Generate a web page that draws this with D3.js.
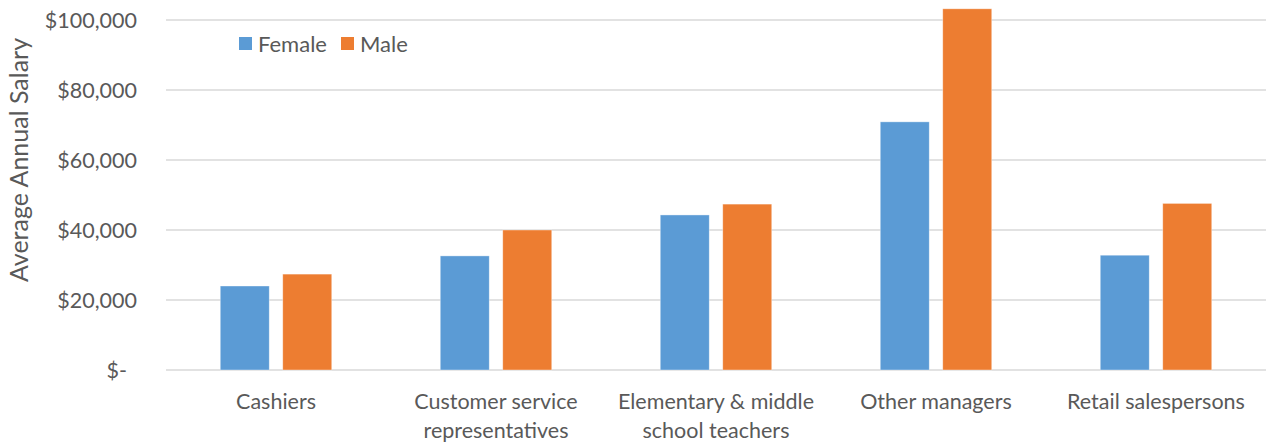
<!DOCTYPE html>
<html>
<head>
<meta charset="utf-8">
<script src="https://cdn.jsdelivr.net/npm/d3@7"></script>
<style>
	body { margin: 0; background: #fff; }
	text { font-family: Lato, "Open Sans", sans-serif; fill: #595959; }
</style>
</head>
<body>
<div class="chart"></div>
<script>

const categories = [
	['Cashiers'],
	['Customer service', 'representatives'],
	['Elementary & middle', 'school teachers'],
	['Other managers'],
	['Retail salespersons']
];
const series = ['Female', 'Male'];
const female = [24000, 32600, 44300, 70900, 32800];
const male = [27400, 40000, 47400, 103200, 47600];
const yTicks = [0, 20000, 40000, 60000, 80000, 100000];
const colors = ['#5b9bd5', '#ed7d31'];

const width = 1267;
const height = 442;
const plotLeft = 166;
const plotRight = 1266;
const plotTop = 20;
const plotBottom = 370;

const svg = d3.select('.chart').append('svg')
	.attr('width', width)
	.attr('height', height);

const x0 = d3.scaleBand()
	.domain(d3.range(categories.length))
	.range([plotLeft, plotRight])
	.padding(0);

const x1 = d3.scaleBand()
	.domain(series)
	.range([0, x0.bandwidth()])
	.paddingInner(0.216)
	.paddingOuter(0.868);

const y = d3.scaleLinear()
	.domain([0, 100000])
	.range([plotBottom, plotTop]);

// gridlines
svg.selectAll('.grid')
	.data(yTicks)
	.enter()
	.append('line')
	.attr('x1', plotLeft)
	.attr('x2', plotRight)
	.attr('y1', d => y(d))
	.attr('y2', d => y(d))
	.attr('stroke', '#d9d9d9')
	.attr('stroke-width', 1.5)
	.attr('class', 'grid');

// y labels
function fmt(d) {
	if (d === 0) return '$-';
	return '$' + d3.format(',')(d);
}

svg.selectAll('.ylab')
	.data(yTicks)
	.enter()
	.append('text')
	.text(fmt)
	.attr('x', d => d === 0 ? 127 : 137)
	.attr('y', d => y(d))
	.attr('dy', '0.35em')
	.attr('text-anchor', 'end')
	.attr('font-size', 21.5)
	.attr('class', 'ylab');

svg.append('text')
	.text('Average Annual Salary')
	.attr('transform', 'translate(19, 160) rotate(-90)')
	.attr('dy', '0.35em')
	.attr('text-anchor', 'middle')
	.attr('font-size', 25);

// bars
const rows = categories.map((c, i) => ({ i: i, values: [female[i], male[i]] }));

const groups = svg.selectAll('.group')
	.data(rows)
	.enter()
	.append('g')
	.attr('transform', d => `translate(${x0(d.i)},0)`)
	.attr('class', 'group');

groups.selectAll('rect')
	.data(d => d.values.map((v, j) => ({ key: series[j], value: v, j: j })))
	.enter()
	.append('rect')
	.attr('x', d => x1(d.key))
	.attr('y', d => y(d.value))
	.attr('width', x1.bandwidth())
	.attr('height', d => y(0) - y(d.value))
	.attr('fill', d => colors[d.j])
	.attr('stroke', '#fff')
	.attr('stroke-opacity', 0.5)
	.attr('stroke-width', 0.75);

// x labels
const xl = svg.selectAll('.xlab')
	.data(categories)
	.enter()
	.append('text')
	.attr('x', (d, i) => x0(i) + x0.bandwidth() / 2)
	.attr('y', 409)
	.attr('text-anchor', 'middle')
	.attr('font-size', 21.5)
	.attr('class', 'xlab');

xl.selectAll('tspan')
	.data(d => d)
	.enter()
	.append('tspan')
	.attr('x', function() { return d3.select(this.parentNode).attr('x'); })
	.attr('dy', (d, i) => i === 0 ? 0 : 29)
	.text(d => d);

// legend
const legend = svg.selectAll('.legend')
	.data(series)
	.enter()
	.append('g')
	.attr('transform', (d, i) => `translate(${239 + i * 102}, 37)`)
	.attr('class', 'legend');

legend.append('rect')
	.attr('width', 13)
	.attr('height', 13)
	.attr('fill', (d, i) => colors[i]);

legend.append('text')
	.text(d => d)
	.attr('x', 19)
	.attr('y', 7)
	.attr('dy', '0.35em')
	.attr('font-size', 22);

</script>
</body>
</html>
